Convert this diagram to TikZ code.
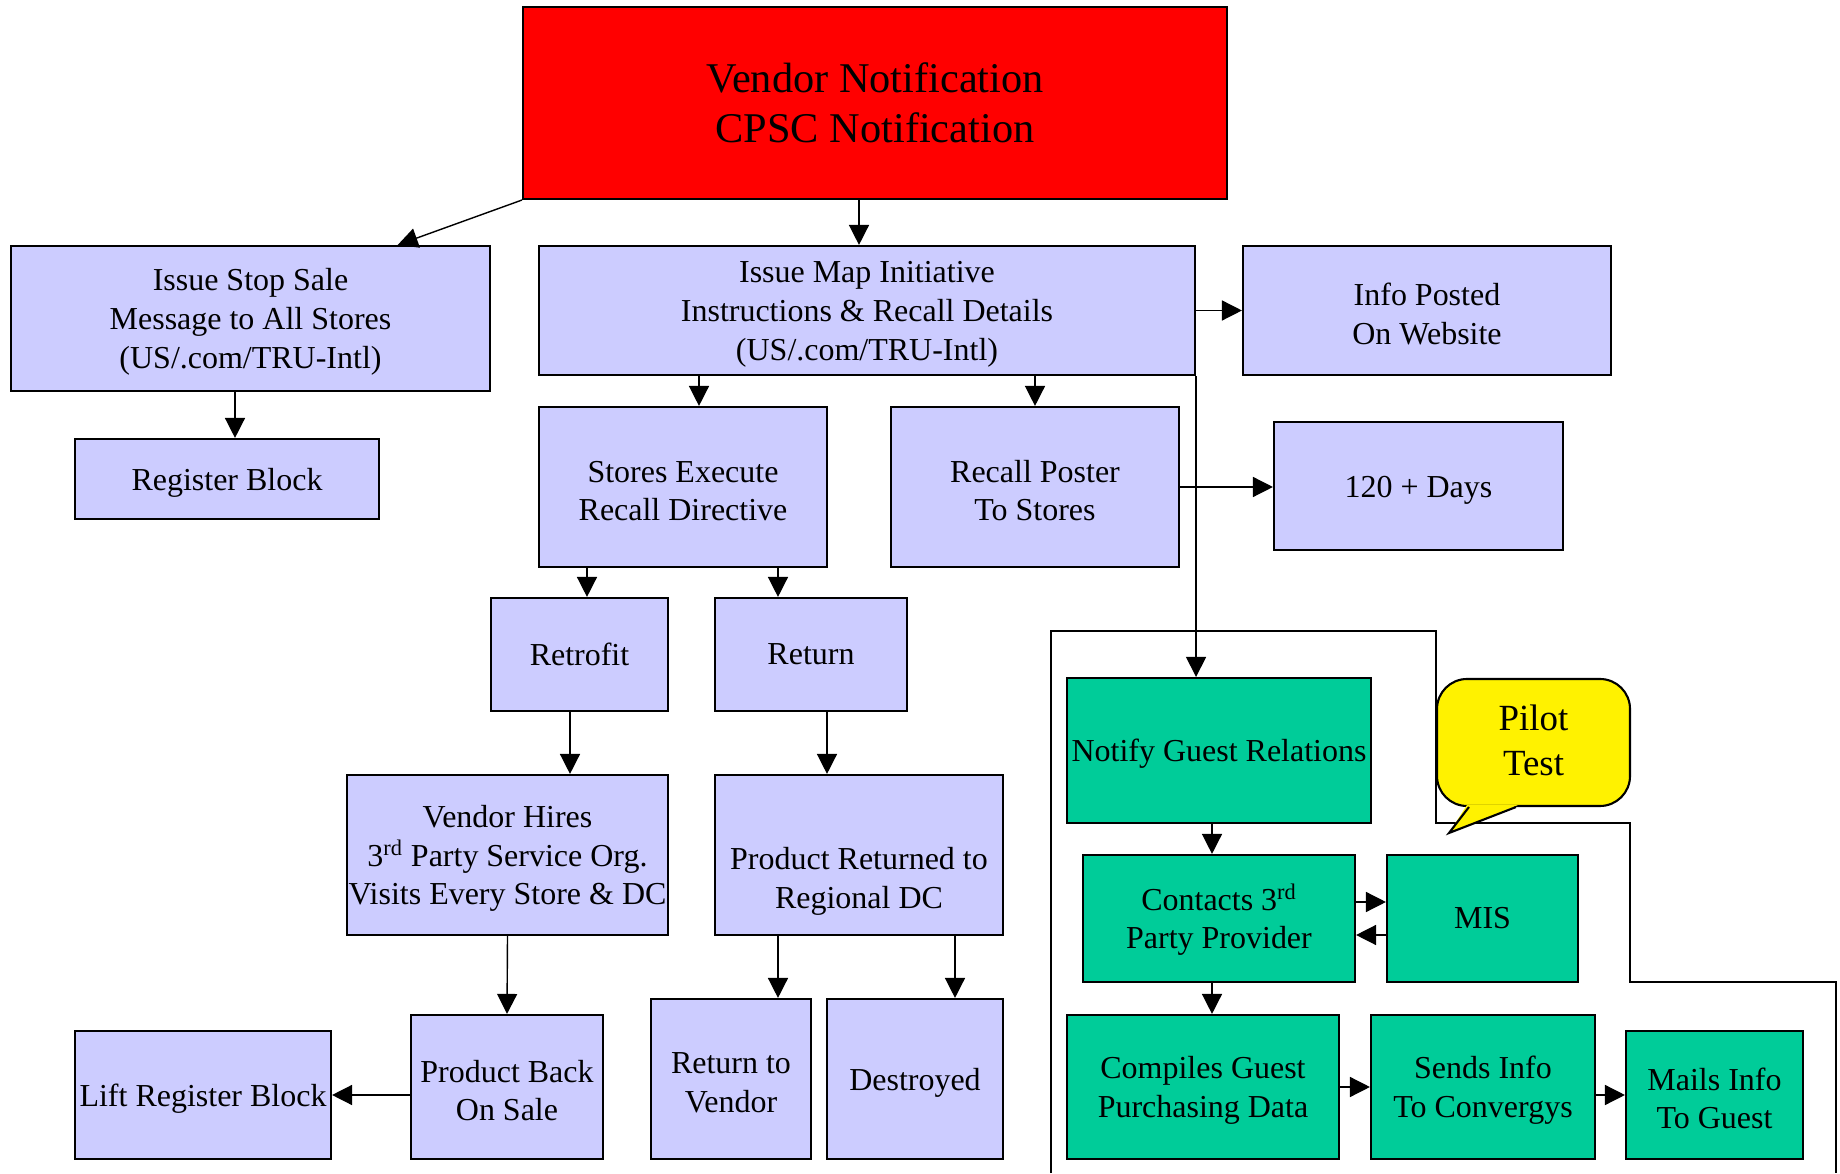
\documentclass[tikz,border=0pt]{standalone}
\usepackage{fontspec}
\setmainfont{Liberation Serif}
\usetikzlibrary{arrows.meta,calc}
\definecolor{lavender}{HTML}{CCCCFF}
\definecolor{guestgreen}{HTML}{00CC99}
\newcommand{\topgap}{\rule{0pt}{0.58cm}}

\begin{document}
\begin{tikzpicture}[
    box/.style={draw, line width=1.2pt, fill=lavender, align=center, inner sep=0pt,
        font=\fontsize{18.2}{22}\selectfont},
    greenbox/.style={box, fill=guestgreen},
    arr/.style={-{Triangle[length=0.40cm,width=0.40cm]}, line width=0.8pt}
]
    \useasboundingbox (0,0) rectangle (36.8,23.46);
    \draw[line width=0.9pt] (21.02,0) -- (21.02,10.84) -- (28.72,10.84) -- (28.72,7.00)
        -- (32.60,7.00) -- (32.60,3.82) -- (36.72,3.82) -- (36.72,0);

    \node[box, fill=red, minimum width=14.08cm, minimum height=3.84cm,
        font=\fontsize{24.1}{28.7}\selectfont] (vendor) at (17.50,21.40) {Vendor Notification\\CPSC Notification};
    \node[box, minimum width=9.58cm, minimum height=2.90cm] (stop) at (5.01,17.09) {\topgap Issue Stop Sale\\Message to All Stores\\(US/.com/TRU-Intl)};
    \node[box, minimum width=13.12cm, minimum height=2.58cm] (map) at (17.34,17.25) {\topgap Issue Map Initiative\\Instructions \& Recall Details\\(US/.com/TRU-Intl)};
    \node[box, minimum width=7.36cm, minimum height=2.58cm] (web) at (28.54,17.25) {\topgap Info Posted\\On Website};
    \node[box, minimum width=6.08cm, minimum height=1.60cm] (regblock) at (4.54,13.88) {\topgap Register Block};
    \node[box, minimum width=5.76cm, minimum height=3.20cm] (execute) at (13.66,13.72) {\topgap Stores Execute\\Recall Directive};
    \node[box, minimum width=5.76cm, minimum height=3.20cm] (poster) at (20.70,13.72) {\topgap Recall Poster\\To Stores};
    \node[box, minimum width=5.78cm, minimum height=2.56cm] (days) at (28.37,13.74) {\topgap 120 + Days};
    \node[box, minimum width=3.54cm, minimum height=2.26cm] (retrofit) at (11.59,10.37) {Retrofit};
    \node[box, minimum width=3.84cm, minimum height=2.26cm] (return) at (16.22,10.37) {Return};
    \node[box, minimum width=6.42cm, minimum height=3.20cm] (hires) at (10.15,6.36) {\topgap Vendor Hires\\3\textsuperscript{rd} Party Service Org.\\Visits Every Store \& DC};
    \node[box, minimum width=5.76cm, minimum height=3.20cm] (regional) at (17.18,6.36) {\rule{0pt}{1.5cm}Product Returned to\\Regional DC};
    \node[box, minimum width=5.12cm, minimum height=2.56cm] (lift) at (4.06,1.56) {\topgap Lift Register Block};
    \node[box, minimum width=3.84cm, minimum height=2.88cm] (backsale) at (10.14,1.72) {\topgap Product Back\\On Sale};
    \node[box, minimum width=3.20cm, minimum height=3.20cm] (tovendor) at (14.62,1.88) {\topgap Return to\\Vendor};
    \node[box, minimum width=3.52cm, minimum height=3.20cm] (destroyed) at (18.30,1.88) {\topgap Destroyed};

    \node[greenbox, minimum width=6.08cm, minimum height=2.90cm] (guestrel) at (24.38,8.45) {\topgap Notify Guest Relations};
    \node[greenbox, minimum width=5.44cm, minimum height=2.54cm] (contacts) at (24.38,5.09) {\topgap Contacts 3\textsuperscript{rd}\\Party Provider};
    \node[greenbox, minimum width=3.82cm, minimum height=2.54cm] (mis) at (29.65,5.09) {MIS};
    \node[greenbox, minimum width=5.44cm, minimum height=2.88cm] (compiles) at (24.06,1.72) {\topgap Compiles Guest\\Purchasing Data};
    \node[greenbox, minimum width=4.48cm, minimum height=2.88cm] (sends) at (29.66,1.72) {\topgap Sends Info\\To Convergys};
    \node[greenbox, minimum width=3.54cm, minimum height=2.56cm] (mails) at (34.29,1.56) {\topgap Mails Info\\To Guest};

    \node[box, fill=yellow, rounded corners=0.6cm, minimum width=3.86cm, minimum height=2.54cm,
        font=\fontsize{21}{25.4}\selectfont] (pilot) at (30.67,8.61) {Pilot\\Test\rule[-0.1cm]{0pt}{0.1cm}};
    \coordinate (tip) at (28.98,6.80);
    \fill[yellow] ($(pilot.south west)+(0.62,0.04)$) -- (tip) -- ($(pilot.south west)+(1.64,0.04)$) -- cycle;
    \draw[line width=1.2pt] ($(pilot.south west)+(0.66,0)$) -- (tip) -- ($(pilot.south west)+(1.60,0)$);

    \draw[arr] (vendor.south west) -- ($(stop.north west)!0.806!(stop.north east)$);
    \draw[arr] (vendor.south -| 17.18,0) -- (map.north -| 17.18,0);
    \draw[arr] (map.east) -- (web.west);
    \draw[arr] (map.south east) -- (map.south east |- guestrel.north);
    \draw[arr] (poster.east) -- (poster.east -| days.west);
    \draw[arr] (stop.south -| 4.70,0) -- (regblock.north -| 4.70,0);
    \draw[arr] (map.south -| 13.98,0) -- (execute.north -| 13.98,0);
    \draw[arr] (map.south -| poster.north) -- (poster.north);
    \draw[arr] (execute.south -| 11.74,0) -- (retrofit.north -| 11.74,0);
    \draw[arr] (execute.south -| 15.56,0) -- (return.north -| 15.56,0);
    \draw[arr] (retrofit.south -| 11.40,0) -- (hires.north -| 11.40,0);
    \draw[arr] (return.south -| 16.54,0) -- (regional.north -| 16.54,0);
    \draw[arr] (hires.south) -- (backsale.north);
    \draw[arr] (backsale.west |- lift.east) -- (lift.east);
    \draw[arr] (regional.south -| 15.56,0) -- (tovendor.north -| 15.56,0);
    \draw[arr] (regional.south -| 19.10,0) -- (destroyed.north -| 19.10,0);
    \draw[arr] (guestrel.south -| 24.24,0) -- (contacts.north -| 24.24,0);
    \draw[arr] (contacts.east |- 0,5.42) -- (mis.west |- 0,5.42);
    \draw[arr] (mis.west |- 0,4.76) -- (contacts.east |- 0,4.76);
    \draw[arr] (contacts.south -| 24.24,0) -- (compiles.north -| 24.24,0);
    \draw[arr] (compiles.east |- sends.west) -- (sends.west);
    \draw[arr] (sends.east |- mails.west) -- (mails.west);
\end{tikzpicture}
\end{document}
